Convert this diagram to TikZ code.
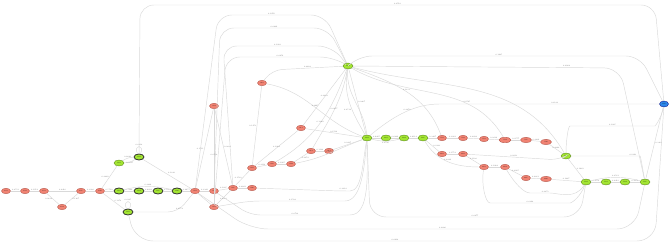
\documentclass[tikz,border=0pt]{standalone}
\usepackage{tikz}
\usetikzlibrary{shapes.geometric, positioning, calc}

\definecolor{redfill}{HTML}{F08272}
\definecolor{reddraw}{HTML}{A8463A}
\definecolor{greenfill}{HTML}{A2E432}
\definecolor{greendraw}{HTML}{4E7A12}
\definecolor{bluefill}{HTML}{2C86E8}
\definecolor{edgegray}{HTML}{D9D9D9}

\begin{document}
\begin{tikzpicture}[
    x=1pt, y=-1pt,
    rnode/.style={draw=reddraw, ellipse, fill=redfill, line width=0.3pt, minimum width=9pt, minimum height=5.5pt, inner sep=0pt, font=\fontsize{1.6}{1.6}\selectfont},
    gnode/.style={draw=greendraw, ellipse, fill=greenfill, line width=0.3pt, minimum width=10pt, minimum height=6pt, inner sep=0pt, font=\fontsize{1.6}{1.6}\selectfont},
    gbold/.style={gnode, draw=black!80, line width=0.8pt},
    bnode/.style={draw=blue!50!black, ellipse, fill=bluefill, line width=0.3pt, minimum width=9pt, minimum height=6pt, inner sep=0pt, font=\fontsize{1.6}{1.6}\selectfont},
    edge/.style={draw=edgegray, line width=0.45pt, rounded corners=10pt},
    lbl/.style={font=\fontsize{1.8}{1.8}\selectfont, text=black!60, inner sep=0.6pt}
]
    \useasboundingbox (0,0) rectangle (671,245);

    % ================= NODES =================
    % left chain
    \node[rnode] (a1) at (6,191) {101};
    \node[rnode] (a2) at (25,191) {102};
    \node[rnode] (a3) at (44,191) {103};
    \node[rnode] (a4) at (62,207) {104};
    \node[rnode] (a5) at (81,191) {105};
    \node[rnode] (a6) at (100,191) {106};

    % green group left
    \node[gnode] (g1) at (119,163) {201};
    \node[gbold] (g2) at (139,157) {202};
    \node[gbold] (g3) at (119,191) {203};
    \node[gbold] (g4) at (139,191) {204};
    \node[gbold] (g5) at (158,191) {205};
    \node[gbold] (g6) at (177,191) {206};
    \node[gbold] (g7) at (128,212) {207};

    % middle red nodes
    \node[rnode] (b1) at (195,191) {301};
    \node[rnode] (b2) at (214,191) {302};
    \node[rnode] (b3) at (214,207) {303};
    \node[rnode] (b4) at (214,106) {304};
    \node[rnode] (b5) at (233,188) {305};
    \node[rnode] (b6) at (252,188) {306};
    \node[rnode] (b7) at (252,168) {307};
    \node[rnode] (b8) at (272,164) {308};
    \node[rnode] (b9) at (291,164) {309};
    \node[rnode] (b10) at (262,83) {310};
    \node[rnode] (b11) at (301,128) {311};
    \node[rnode] (b12) at (311,151) {312};
    \node[rnode] (b13) at (329,151) {313};

    % hubs
    \node[gnode] (H1) at (348,66) {401};
    \node[gnode] (H2) at (367,138) {402};
    \node[gnode] (h3) at (386,138) {403};
    \node[gnode] (h4) at (404,138) {404};
    \node[gnode] (h5) at (423,138) {405};

    % right red rows
    \node[rnode] (c1) at (442,138) {501};
    \node[rnode] (c2) at (463,138) {502};
    \node[rnode] (c3) at (484,139) {503};
    \node[rnode, minimum width=12pt] (c4) at (505,140) {504};
    \node[rnode, minimum width=11pt] (c5) at (526,140) {505};
    \node[rnode, minimum width=11pt] (c6) at (546,142) {506};
    \node[rnode] (d1) at (442,154) {601};
    \node[rnode] (d2) at (463,154) {602};
    \node[rnode] (d3) at (484,167) {603};
    \node[rnode] (d4) at (505,167) {604};
    \node[rnode] (d5) at (526,178) {605};
    \node[rnode, minimum width=11pt] (d6) at (546,179) {606};

    % right green chain and sink
    \node[gnode] (k1) at (566,156) {701};
    \node[gnode] (k2) at (586,182) {702};
    \node[gnode] (k3) at (606,182) {703};
    \node[gnode] (k4) at (625,182) {704};
    \node[gnode] (k5) at (645,182) {705};
    \node[bnode] (z) at (664,104) {800};

    % ================= EDGES =================
    % left chain
    \draw[edge] (a1) -- node[lbl,above]{0.2731} (a2);
    \draw[edge] (a2) -- node[lbl,above]{0.1954} (a3);
    \draw[edge] (a3) -- node[lbl,above]{0.4410} (a5);
    \draw[edge] (a3) -- node[lbl,left]{0.0832} (a4);
    \draw[edge] (a4) -- node[lbl,right]{0.1167} (a5);
    \draw[edge] (a5) -- node[lbl,above]{0.3028} (a6);
    \draw[edge] (a6) -- node[lbl,above]{0.5512} (g3);
    \draw[edge] (a6) -- node[lbl,left]{0.2209} (g1);
    \draw[edge] (a6) -- node[lbl,right]{0.1378} (g7);

    % green group left
    \draw[edge] (g1) to[bend left=15] node[lbl,above]{0.6043} (g2);
    \draw[edge] (g1) to[bend right=15] node[lbl,below]{0.0917} (g2);
    \draw[edge] (g2) to[out=115,in=65,looseness=9] node[lbl,above]{0.0412} (g2);
    \draw[edge] (g7) to[out=115,in=65,looseness=9] node[lbl,above]{0.0385} (g7);
    \draw[edge] (g3) -- node[lbl,above]{0.7120} (g4);
    \draw[edge] (g4) -- node[lbl,above]{0.6894} (g5);
    \draw[edge] (g5) -- node[lbl,above]{0.7031} (g6);
    \draw[edge] (g3) to[bend left=14] node[lbl,above]{0.2286} (g6);
    \draw[edge] (g6) -- node[lbl,above]{0.4657} (b1);
    \draw[edge] (g2) -- node[lbl,above right]{0.1843} (b1);
    \draw[edge] (g7) -- (178,212) -- node[lbl,above,pos=0.1]{0.2574} (b1);
    \draw[edge, rounded corners=14pt] (g2) -- (140,5) -- node[lbl,above]{0.0763} (655,5) -- (z);

    % middle
    \draw[edge] (b1) -- node[lbl,above]{0.3349} (b2);
    \draw[edge] (b1) -- (b3);
    \draw[edge] (b2) -- node[lbl,above]{0.1825} (b5);
    \draw[edge] (b3) -- node[lbl,below]{0.0988} (b5);
    \draw[edge] (b5) -- node[lbl,above]{0.2641} (b6);
    \draw[edge] (b5) -- node[lbl,left]{0.1532} (b7);
    \draw[edge] (b7) -- node[lbl,above]{0.2118} (b8);
    \draw[edge] (b8) -- node[lbl,above]{0.1907} (b9);
    \draw[edge] (b9) -- node[lbl,right]{0.0874} (b12);
    \draw[edge] (b7) -- node[lbl,above]{0.1264} (b11);
    \draw[edge] (b4) -- node[lbl,right]{0.2039} (b5);
    \draw[edge] (b4) -- node[lbl,left]{0.1711} (b1);
    \draw[edge] (b4) -- node[lbl,above]{0.0592} (b3);
    \draw[edge] (b10) -- node[lbl,left]{0.1473} (b7);
    \draw[edge] (b10) -- (272,70) -- node[lbl,above]{0.2862} (H1);
    \draw[edge] (b10) to[out=-10,in=160] node[lbl,above]{0.0695} (H2);
    \draw[edge] (b12) -- node[lbl,above]{0.1188} (b13);
    \draw[edge] (b13) -- node[lbl,above]{0.2437} (H2);
    \draw[edge] (b11) -- node[lbl,above]{0.1596} (H2);
    \draw[edge] (b11) -- node[lbl,above]{0.0823} (H1);
    \draw[edge] (b8) to[out=30,in=-110] node[lbl,above]{0.1349} (H1);
    \draw[edge] (b12) to[out=60,in=-100] node[lbl,above]{0.0417} (H1);
    \draw[edge] (b9) to[out=10,in=200] node[lbl,above]{0.0961} (H2);
    \draw[edge] (b6) -- (340,191) to[out=0,in=-100] node[lbl,above,pos=0.05]{0.3014} (H2);
    \draw[edge] (b3) -- (250,201) -- node[lbl,above]{0.1502} (335,201) to[out=0,in=-95] (H2);
    \draw[edge] (b2) -- (250,215) -- node[lbl,above]{0.0738} (340,215) to[out=0,in=-90] (H2);

    % long curves into the top hub
    \draw[edge, rounded corners=14pt] (b1) -- (218,15) -- node[lbl,above]{0.1076} (325,15) -- (H1);
    \draw[edge, rounded corners=14pt] (b2) -- (220,28) -- node[lbl,above]{0.0489} (328,28) -- (H1);
    \draw[edge, rounded corners=14pt] (b5) -- (223,46) -- node[lbl,above]{0.1293} (332,46) -- (H1);
    \draw[edge, rounded corners=14pt] (b3) -- (226,57) -- node[lbl,above]{0.0659} (334,57) -- (H1);
    \draw[edge] (H1) -- node[lbl,right]{0.2207} (H2);
    \draw[edge] (H1) to[out=-95,in=95] (H2);
    \draw[edge] (H1) to[out=-100,in=120] node[lbl,left,pos=0.6]{0.0518} (H2);

    % hub 1 to the right
    \draw[edge, rounded corners=14pt] (H1) -- (358,56) -- node[lbl,above]{0.1685} (640,56) -- (z);
    \draw[edge, rounded corners=16pt] (H1) -- node[lbl,above,pos=0.8]{0.0902} (620,68) -- (k5);
    \draw[edge] (H1) to[out=-20,in=110] node[lbl,above]{0.1331} (c1);
    \draw[edge] (H1) to[out=-30,in=120] node[lbl,above,pos=0.7]{0.0765} (c4);
    \draw[edge] (H1) to[out=-15,in=120] (k1);
    \draw[edge] (H2) to[out=40,in=180] node[lbl,above]{0.2278} (450,104) -- node[lbl,above]{0.3180} (z);

    % hub 2 chain
    \draw[edge] (H2) -- node[lbl,above]{0.6407} (h3);
    \draw[edge] (h3) -- node[lbl,above]{0.6289} (h4);
    \draw[edge] (H2) to[bend right=14] node[lbl,below]{0.0536} (h4);
    \draw[edge] (h4) -- node[lbl,above]{0.6114} (h5);
    \draw[edge] (h5) -- node[lbl,above]{0.3297} (c1);
    \draw[edge] (h5) -- node[lbl,right]{0.2103} (d1);
    \draw[edge] (h5) to[out=-60,in=180] node[lbl,above]{0.0449} (d3);

    % right red rows
    \draw[edge] (c1) -- node[lbl,above]{0.3021} (c2);
    \draw[edge] (c2) -- node[lbl,above]{0.2894} (c3);
    \draw[edge] (c3) -- node[lbl,above]{0.2816} (c4);
    \draw[edge] (c4) -- node[lbl,above]{0.2577} (c5);
    \draw[edge] (c5) -- node[lbl,above]{0.2439} (c6);
    \draw[edge] (c6) -- node[lbl,above]{0.2260} (k1);
    \draw[edge] (d1) -- node[lbl,above]{0.1752} (d2);
    \draw[edge] (d2) -- node[lbl,above]{0.1128} (d3);
    \draw[edge] (d2) -- node[lbl,above]{0.0913} (560,160) -- (k1);
    \draw[edge] (d3) -- node[lbl,above]{0.1064} (d4);
    \draw[edge] (d4) -- node[lbl,above]{0.0927} (d5);
    \draw[edge] (d5) -- node[lbl,above]{0.0881} (d6);
    \draw[edge] (d6) -- node[lbl,above]{0.1407} (k2);
    \draw[edge] (d3) to[out=-100,in=180] (500,203) -- node[lbl,above]{0.0394} (560,203) to[out=0,in=-110] (k2);
    \draw[edge] (d4) to[out=-60,in=180] (540,193) to[out=0,in=-120] node[lbl,above,pos=0.1]{0.0273} (k2);

    % right green chain
    \draw[edge] (k1) -- node[lbl,right]{0.1639} (k2);
    \draw[edge] (k2) -- node[lbl,above]{0.4552} (k3);
    \draw[edge] (k3) -- node[lbl,above]{0.4418} (k4);
    \draw[edge] (k4) -- node[lbl,above]{0.4376} (k5);
    \draw[edge] (k2) to[bend left=14] node[lbl,above]{0.0581} (k5);
    \draw[edge] (k1) -- (630,156) to[out=0,in=100] node[lbl,above,pos=0.1]{0.2193} (k5);
    \draw[edge] (k1) to[out=90,in=180] (580,126) -- node[lbl,above]{0.1025} (645,126) to[out=0,in=-100] (z);
    \draw[edge] (k5) -- node[lbl,right]{0.3308} (z);

    % long curves along the bottom
    \draw[edge, rounded corners=16pt] (H2) -- (370,217) -- node[lbl,above]{0.0477} (580,217) -- (k2);
    \draw[edge, rounded corners=18pt] (b1) -- (250,229) -- node[lbl,above]{0.0826} (635,229) -- (k5);
    \draw[edge, rounded corners=18pt] (g7) -- (135,241) -- node[lbl,above]{0.0614} (655,241) -- (z);
\end{tikzpicture}
\end{document}
